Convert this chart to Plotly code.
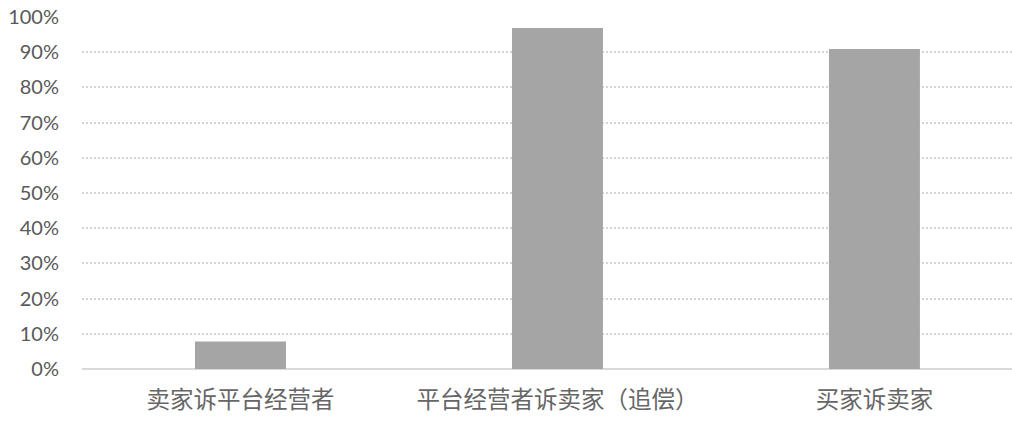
import plotly.graph_objects as go

categories = ["卖家诉平台经营者", "平台经营者诉卖家（追偿）", "买家诉卖家"]
values = [0.078, 0.969, 0.909]
y_ticks = [0, 0.1, 0.2, 0.3, 0.4, 0.5, 0.6, 0.7, 0.8, 0.9, 1.0]
y_tick_labels = ["0%", "10%", "20%", "30%", "40%", "50%", "60%", "70%", "80%", "90%", "100%"]

fig = go.Figure(go.Bar(x=categories, y=values, marker=dict(color="#a5a5a5", line=dict(width=0))))

fig.update_layout(
    width=1012, height=423,
    margin=dict(l=82, r=0, t=17, b=54),
    paper_bgcolor="white", plot_bgcolor="white",
    bargap=0.713,
    showlegend=False,
)
fig.update_xaxes(
    type="category",
    range=[-0.5, 2.434],
    showgrid=False,
    showline=False,
    ticks="",
    ticklabelstandoff=14,
    tickfont=dict(family="Noto Sans CJK SC", size=23.5, color="#666666"),
)
fig.update_yaxes(
    range=[0, 1.0],
    tickvals=y_ticks,
    ticktext=y_tick_labels,
    showgrid=True,
    gridcolor="#d4d4d4",
    gridwidth=1.5,
    griddash="2px,2px",
    zeroline=True,
    zerolinecolor="#d9d9d9",
    zerolinewidth=2,
    showline=False,
    ticks="",
    ticklabelstandoff=22,
    tickfont=dict(family="Lato", size=20, color="#595959"),
)

fig.write_html(
    "out.html",
    config={"displayModeBar": False},
    post_script="document.body.style.margin='0';document.body.style.overflow='hidden';",
)
